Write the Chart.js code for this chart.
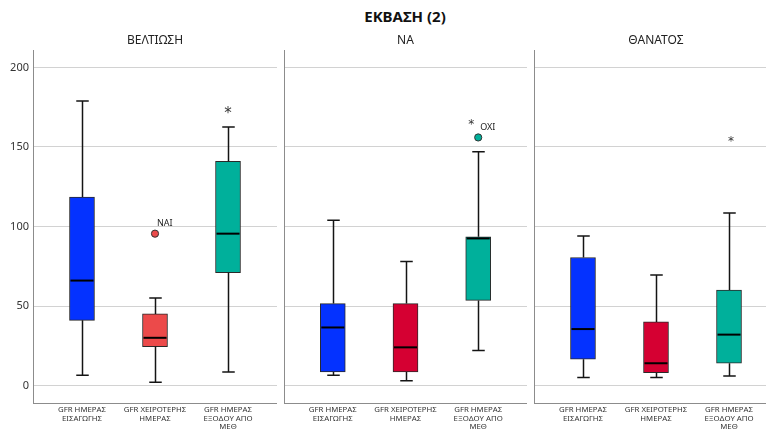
<!DOCTYPE html>
<html>
<head>
<meta charset="utf-8">
<title>ΕΚΒΑΣΗ (2)</title>
<script src="https://cdn.jsdelivr.net/npm/chart.js@4/dist/chart.umd.min.js"></script>
<style>
  html, body { margin: 0; padding: 0; background: #fff; overflow: hidden; }
  #wrap { position: relative; width: 766px; height: 433px; overflow: hidden; }
  #wrap canvas { position: absolute; top: 0; }
  #mainTitle {
    position: absolute; left: 405px; top: 16px; transform: translate(-50%, -50%);
    font: bold 15px "Noto Sans", sans-serif; color: #111; white-space: nowrap;
  }
</style>
</head>
<body>
<div id="wrap">
  <div id="mainTitle">ΕΚΒΑΣΗ (2)</div>
  <canvas id="p0" width="277" height="433" style="left:0px"></canvas>
  <canvas id="p1" width="247" height="433" style="left:280px"></canvas>
  <canvas id="p2" width="248" height="433" style="left:530px"></canvas>
</div>
<script>
// Variables on the x axis (one box per variable in every panel)
const categories = [
  ["GFR ΗΜΕΡΑΣ", "ΕΙΣΑΓΩΓΗΣ"],
  ["GFR ΧΕΙΡΟΤΕΡΗΣ", "ΗΜΕΡΑΣ"],
  ["GFR ΗΜΕΡΑΣ", "ΕΞΟΔΟΥ ΑΠΟ", "ΜΕΘ"]
];

// Outcome groups, one panel each
const outcomes = ["ΒΕΛΤΙΩΣΗ", "ΝΑ", "ΘΑΝΑΤΟΣ"];

const yTicks = [0, 50, 100, 150, 200];

// Box summaries per variable: [lower whisker, Q1, median, Q3, upper whisker]
const improvementStats = [
  [6.5, 41, 66, 118.5, 179],
  [2, 24.5, 30, 45, 55],
  [8.5, 71, 95.5, 141, 162.5]
];
const naStats = [
  [6.5, 8.5, 36.5, 51.5, 104],
  [3, 8.5, 24, 51.5, 78],
  [22, 53.5, 92.5, 93.5, 147]
];
const deathStats = [
  [5, 16.5, 35.5, 80.5, 94],
  [5, 8, 14, 40, 69.5],
  [6, 14, 32, 60, 108.5]
];

// Outlying cases: category index, value, marker (circle = outlier, star = extreme), case label
const improvementOutliers = [
  { cat: 1, value: 95.5, marker: "circle", label: "ΝΑΙ" },
  { cat: 2, value: 174, marker: "star", label: "" }
];
const naOutliers = [
  { cat: 2, value: 156, marker: "circle", label: "ΟΧΙ" },
  { cat: 2, value: 166.5, marker: "star", label: "" }
];
const deathOutliers = [
  { cat: 2, value: 155.5, marker: "star", label: "" }
];

const statsByPanel = [improvementStats, naStats, deathStats];
const outliersByPanel = [improvementOutliers, naOutliers, deathOutliers];

// Styling
const FONT = '"Noto Sans", "Liberation Sans", sans-serif';
Chart.defaults.font.family = FONT;
const panelColors = [
  ["#0432ff", "#ec4a4a", "#00b09b"],
  ["#0432ff", "#d50032", "#00b09b"],
  ["#0432ff", "#d50032", "#00b09b"]
];
const starStyle = [
  { size: 15, shift: 0 },
  { size: 12, shift: -7 },
  { size: 12, shift: 2 }
];
const AXIS_COLOR = "#8c8c8c";
const GRID_COLOR = "#d2d2d2";

// Whiskers, medians, outliers and the panel heading, drawn on top of the box bars
const boxPlotDecor = {
  id: "boxPlotDecor",
  afterDatasetsDraw(chart, args, opts) {
    const { ctx } = chart;
    const yScale = chart.scales.y;
    const xScale = chart.scales.x;
    const meta = chart.getDatasetMeta(0);
    ctx.save();
    opts.stats.forEach((s, i) => {
      const bar = meta.data[i];
      const cx = Math.round(bar.x) + 0.5;
      const half = bar.width / 2;
      const cap = bar.width / 4;
      const [lo, q1, med, q3, hi] = s.map(v => yScale.getPixelForValue(v));
      ctx.strokeStyle = "#141414";
      ctx.lineWidth = 1.5;
      ctx.beginPath();
      ctx.moveTo(cx, q3); ctx.lineTo(cx, hi);
      ctx.moveTo(cx - cap, hi); ctx.lineTo(cx + cap, hi);
      ctx.moveTo(cx, q1); ctx.lineTo(cx, lo);
      ctx.moveTo(cx - cap, lo); ctx.lineTo(cx + cap, lo);
      ctx.stroke();
      ctx.strokeStyle = "#000";
      ctx.lineWidth = 2;
      ctx.beginPath();
      ctx.moveTo(bar.x - half + 1, med); ctx.lineTo(bar.x + half - 1, med);
      ctx.stroke();
    });

    opts.outliers.forEach(o => {
      const px = xScale.getPixelForValue(o.cat);
      const py = yScale.getPixelForValue(o.value);
      if (o.marker === "circle") {
        ctx.beginPath();
        ctx.arc(px, py, 3.6, 0, Math.PI * 2);
        ctx.fillStyle = opts.colors[o.cat];
        ctx.fill();
        ctx.lineWidth = 1;
        ctx.strokeStyle = "#333";
        ctx.stroke();
      } else {
        ctx.fillStyle = "#333";
        ctx.font = opts.star.size + "px \"DejaVu Sans\", sans-serif";
        ctx.textAlign = "center";
        ctx.textBaseline = "alphabetic";
        ctx.fillText("*", px + opts.star.shift, py + opts.star.size * 0.6);
      }
      if (o.label) {
        ctx.fillStyle = "#222";
        ctx.font = "9px " + FONT;
        ctx.textAlign = "left";
        ctx.textBaseline = "middle";
        ctx.fillText(o.label, px + 2, py - 10);
      }
    });

    const area = chart.chartArea;
    ctx.fillStyle = "#222";
    ctx.font = "12px " + FONT;
    ctx.textAlign = "center";
    ctx.textBaseline = "middle";
    ctx.fillText(opts.heading, (area.left + area.right) / 2, area.top - 9);
    ctx.restore();
  }
};

function buildPanel(canvasId, p) {
  const stats = statsByPanel[p];
  const colors = panelColors[p];
  const first = p === 0;
  return new Chart(document.getElementById(canvasId), {
    type: "bar",
    data: {
      datasets: [{
        data: stats.map((s, i) => ({ x: i, y: [s[1], s[3]] })),
        backgroundColor: colors,
        borderColor: "#2a2a2a",
        borderWidth: 1,
        borderSkipped: false,
        barThickness: 25
      }]
    },
    options: {
      responsive: false,
      animation: false,
      devicePixelRatio: 1,
      layout: { padding: { top: 50, left: first ? 0 : 4, right: 0, bottom: 0 } },
      plugins: {
        legend: { display: false },
        tooltip: { enabled: false },
        boxPlotDecor: {
          stats: stats,
          outliers: outliersByPanel[p],
          colors: colors,
          heading: outcomes[p],
          star: starStyle[p]
        }
      },
      scales: {
        x: {
          type: "linear",
          offset: false,
          min: -0.671,
          max: 2.671,
          afterBuildTicks: s => { s.ticks = categories.map((_, i) => ({ value: i })); },
          afterFit: s => { s.height = 30; },
          ticks: {
            callback: (v, i) => categories[i],
            font: { size: 7.8, family: FONT, lineHeight: 1.05 },
            color: "#333",
            padding: 3,
            maxRotation: 0,
            autoSkip: false
          },
          grid: { display: false, drawTicks: false, offset: false },
          border: { display: true, color: AXIS_COLOR, width: 1 }
        },
        y: {
          min: -11,
          max: 211,
          afterBuildTicks: s => { s.ticks = yTicks.map(v => ({ value: v })); },
          afterFit: s => { s.width = first ? 33 : 0; },
          ticks: {
            display: first,
            font: { size: 11, family: FONT },
            color: "#333",
            padding: 4
          },
          grid: { color: GRID_COLOR, lineWidth: 1, drawTicks: false },
          border: { display: true, color: AXIS_COLOR, width: 1 }
        }
      }
    },
    plugins: [boxPlotDecor]
  });
}

buildPanel("p0", 0);
buildPanel("p1", 1);
buildPanel("p2", 2);
</script>
</body>
</html>
